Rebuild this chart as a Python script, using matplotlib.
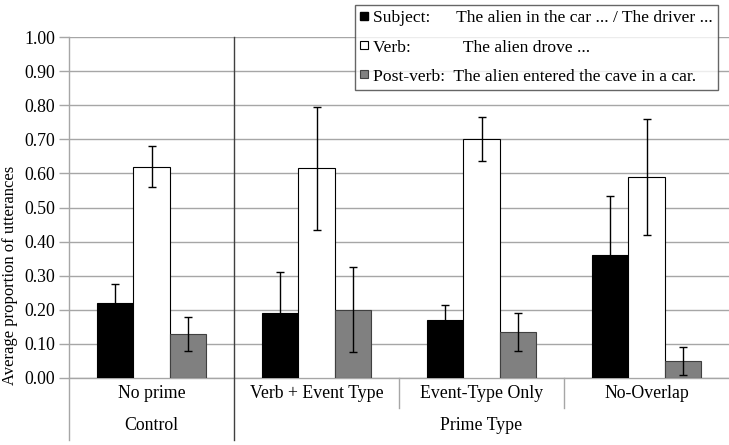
import numpy as np
import matplotlib
matplotlib.use('Agg')
import matplotlib.pyplot as plt
from matplotlib.lines import Line2D

plt.rcParams['font.family'] = ['Liberation Serif', 'DejaVu Serif']

# 数据
groups = ['No prime', 'Verb + Event Type', 'Event-Type Only', 'No-Overlap']
subject = [0.22, 0.19, 0.17, 0.36]
subject_err = [0.055, 0.12, 0.045, 0.175]
verb = [0.62, 0.615, 0.70, 0.59]
verb_err = [0.06, 0.18, 0.065, 0.17]
postverb = [0.13, 0.20, 0.135, 0.05]
postverb_err = [0.05, 0.125, 0.055, 0.04]
yticks = [0.0, 0.1, 0.2, 0.3, 0.4, 0.5, 0.6, 0.7, 0.8, 0.9, 1.0]

W, H = 729, 445
fs = 12.8
fig = plt.figure(figsize=(W / 100, H / 100), dpi=100)
ax = fig.add_axes([69 / W, 1 - 378 / H, 660 / W, 341 / H])

x = np.arange(len(groups))
bw = 0.221
grid_c = '#a6a6a6'
ekw = dict(ecolor='black', elinewidth=1, capsize=3, capthick=1)

ax.bar(x - bw, subject, bw, color='black', edgecolor='black', linewidth=0.8,
       yerr=subject_err, error_kw=ekw, zorder=3)
ax.bar(x, verb, bw, color='white', edgecolor='black', linewidth=0.8,
       yerr=verb_err, error_kw=ekw, zorder=3)
ax.bar(x + bw, postverb, bw, color='#808080', edgecolor='#404040', linewidth=0.8,
       yerr=postverb_err, error_kw=ekw, zorder=3)

ax.set_xlim(-0.5, 3.5)
ax.set_ylim(0, 1.0)
ax.set_yticks(yticks)
ax.set_yticklabels(['%.2f' % v for v in yticks], fontsize=fs)
ax.yaxis.grid(True, color=grid_c, linewidth=1, zorder=0)
ax.set_axisbelow(True)
ax.tick_params(axis='y', length=7, color=grid_c, width=1, pad=3)
ax.set_xticks([])
for s in ['top', 'right', 'bottom', 'left']:
    ax.spines[s].set_visible(False)
ax.set_ylabel('Average proportion of utterances', fontsize=12)
ax.yaxis.set_label_coords(-0.077, 0.30)

# 坐标轴线和分隔线
tr = ax.get_xaxis_transform()
ax.plot([-0.5, 3.5], [0, 0], color=grid_c, lw=1, transform=tr, clip_on=False, zorder=2)
ax.plot([-0.5, -0.5], [1.0, -62 / 341], color=grid_c, lw=1, transform=tr, clip_on=False)
ax.plot([0.5, 0.5], [1.0, -62 / 341], color='#404040', lw=1, transform=tr, clip_on=False)
for sx in [1.5, 2.5]:
    ax.plot([sx, sx], [0, -30 / 341], color=grid_c, lw=1, transform=tr, clip_on=False)

for i, g in enumerate(groups):
    ax.text(i, -16 / 341, g, transform=tr, ha='center', va='center', fontsize=fs)
ax.text(0, -48 / 341, 'Control', transform=tr, ha='center', va='center', fontsize=fs)
ax.text(2, -48 / 341, 'Prime Type', transform=tr, ha='center', va='center', fontsize=fs)

# 图例
handles = [
    Line2D([], [], marker='s', ls='', markersize=5.5, markerfacecolor='black', markeredgecolor='black'),
    Line2D([], [], marker='s', ls='', markersize=5.5, markerfacecolor='white', markeredgecolor='black', markeredgewidth=0.8),
    Line2D([], [], marker='s', ls='', markersize=5.5, markerfacecolor='#808080', markeredgecolor='#404040', markeredgewidth=0.8),
]
labels = ['Subject:      The alien in the car ... / The driver ...',
          'Verb:            The alien drove ...',
          'Post-verb:  The alien entered the cave in a car.']
leg = fig.legend(handles, labels, loc='upper right', bbox_to_anchor=(718 / W, 1 - 5 / H),
                 fontsize=12.6, frameon=True, fancybox=False, borderaxespad=0,
                 handlelength=0.5, handletextpad=0.25, labelspacing=0.73,
                 borderpad=0.3)
leg.get_frame().set_edgecolor('#404040')
leg.get_frame().set_linewidth(1)

fig.savefig('out.png', dpi=100)
